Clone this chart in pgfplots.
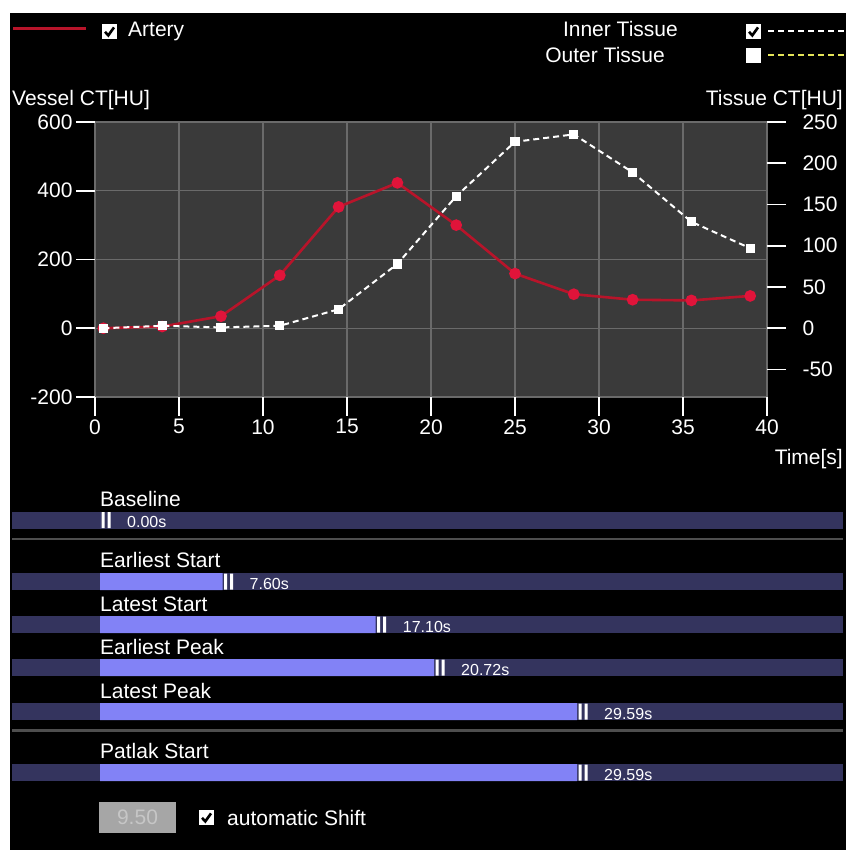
\documentclass[border=0pt]{standalone}
\usepackage{pgfplots}
\pgfplotsset{compat=1.18}
\usepackage{fontspec}
\setmainfont{Liberation Sans}
\definecolor{plotgray}{HTML}{3A3A3A}
\definecolor{gridgray}{HTML}{6A6A6A}
\definecolor{arteryred}{HTML}{B8142A}
\definecolor{markred}{HTML}{E0143A}
\definecolor{track}{HTML}{34345E}
\definecolor{lav}{HTML}{8282F6}
\definecolor{sepgray}{HTML}{4E4E4E}
\definecolor{boxgray}{HTML}{A6A6A6}
\definecolor{boxtext}{HTML}{C6C6C6}
\definecolor{outeryellow}{HTML}{E4E45A}
\newcommand{\lbl}{\fontsize{21}{24}\selectfont}
\newcommand{\valfont}{\fontsize{16}{18}\selectfont}
\newcommand{\chkbox}[2]{%
  \fill[white] (#1,-#2) rectangle ++(15,-15);
  \draw[black, line width=2.6pt] ({#1+3},{-#2-7.8}) -- ({#1+6.3},{-#2-11.4}) -- ({#1+12},{-#2-3.4});}
\pgfdeclareplotmark{handle}{%
  \pgfpathrectangle{\pgfpoint{1.5pt}{-8pt}}{\pgfpoint{3pt}{16pt}}%
  \pgfpathrectangle{\pgfpoint{7.5pt}{-8pt}}{\pgfpoint{3pt}{16pt}}%
  \pgfusepathqfill}
\begin{document}
\begin{tikzpicture}[x=1pt,y=1pt]
\fill[white] (0,0) rectangle (846,-850);
\fill[black] (10,-13) rectangle (846,-850);
% legend
\draw[arteryred, line width=3pt] (13,-29) -- (86,-29);
\chkbox{102}{24}
\node[anchor=base west, white, inner sep=0pt, font=\lbl] at (128,-37) {Artery};
\node[anchor=base east, white, inner sep=0pt, font=\lbl] at (678,-37) {Inner Tissue};
\chkbox{746}{24}
\draw[white, line width=2.2pt, dash pattern=on 6pt off 4pt] (768,-31) -- (846,-31);
\node[anchor=base east, white, inner sep=0pt, font=\lbl] at (665,-63) {Outer Tissue};
\fill[white] (746,-48) rectangle (761,-63);
\draw[outeryellow, line width=2.2pt, dash pattern=on 6pt off 4pt] (768,-55) -- (846,-55);
\node[anchor=base west, white, inner sep=0pt, font=\lbl] at (12,-106) {Vessel CT[HU]};
\node[anchor=base east, white, inner sep=0pt, font=\lbl] at (843,-106) {Tissue CT[HU]};
\node[anchor=base east, white, inner sep=0pt, font=\lbl] at (843,-464) {Time[s]};
% main axis (vessel)
\begin{axis}[
  at={(95pt,-397pt)}, anchor=south west, scale only axis,
  width=672pt, height=275pt,
  xmin=0, xmax=40, ymin=-200, ymax=600,
  axis background/.style={fill=plotgray},
  axis line style={draw=none},
  xtick={0,5,...,40}, ytick={-200,0,...,600},
  xtick pos=bottom, ytick pos=left,
  tick align=outside, major tick length=19pt,
  tick style={white, line width=1.6pt},
  grid=major, major grid style={gridgray, line width=1.2pt},
  tick label style={white, font=\lbl},
  /pgf/number format/assume math mode=true,
  clip=false,
]
\addplot[arteryred, line width=2.6pt, mark=*, mark size=4.5pt, mark options={markred, draw=markred}] coordinates {
(0.5,0) (4.0,5) (7.5,35) (11.0,154) (14.5,353) (18.0,423) (21.5,300) (25.0,159) (28.5,99) (32.0,83) (35.5,81) (39.0,94)
};
\end{axis}
% secondary axis (tissue)
\begin{axis}[
  at={(95pt,-397pt)}, anchor=south west, scale only axis,
  width=672pt, height=275pt,
  xmin=0, xmax=40, ymin=-83.333, ymax=250,
  hide x axis,
  axis y line*=right,
  axis line style={draw=none},
  ytick={-50,0,...,250},
  tick align=outside, major tick length=19pt,
  tick style={white, line width=1.6pt},
  yticklabel style={white, font=\lbl, anchor=west, xshift=13pt},
  /pgf/number format/assume math mode=true,
  clip=false,
]
\addplot[white, line width=2pt, dash pattern=on 6pt off 4pt, mark=square*, mark size=3.6pt, mark options={solid, fill=white}] coordinates {
(0.5,0) (4.0,3) (7.5,1) (11.0,3) (14.5,23) (18.0,78) (21.5,160) (25.0,226) (28.5,235) (32.0,189) (35.5,129) (39.0,97)
};
\end{axis}
% slider labels and separators
\draw[sepgray, line width=2.4pt] (12,-539) -- (843,-539);
\draw[sepgray, line width=2.4pt] (12,-730.5) -- (843,-730.5);
\node[anchor=base west, white, inner sep=0pt, font=\lbl] at (100,-506) {Baseline};
\node[anchor=base west, white, inner sep=0pt, font=\lbl] at (100,-567) {Earliest Start};
\node[anchor=base west, white, inner sep=0pt, font=\lbl] at (100,-611) {Latest Start};
\node[anchor=base west, white, inner sep=0pt, font=\lbl] at (100,-654) {Earliest Peak};
\node[anchor=base west, white, inner sep=0pt, font=\lbl] at (100,-698) {Latest Peak};
\node[anchor=base west, white, inner sep=0pt, font=\lbl] at (100,-758) {Patlak Start};
% slider axis
\begin{axis}[
  at={(12pt,-800pt)}, anchor=south west, scale only axis,
  width=831pt, height=320pt,
  xmin=-5.459, xmax=46.09, ymin=-800, ymax=-480,
  axis lines=none, clip=false,
]
\foreach \c in {-520,-581.5,-624.5,-667.5,-711.5,-772.5}{
  \edef\tmp{\noexpand\fill[track] (axis cs:-5.459,\c+8.5) rectangle (axis cs:46.09,\c-8.5);}
  \tmp
}
\addplot[xbar, bar width=17pt, fill=lav, draw=none] coordinates {
(0,-520) (7.60,-581.5) (17.10,-624.5) (20.72,-667.5) (29.59,-711.5) (29.59,-772.5)
};
\addplot[only marks, mark=handle, white, point meta=x,
  nodes near coords={\pgfmathprintnumber[fixed,fixed zerofill,precision=2,assume math mode=true]{\pgfplotspointmeta}s},
  every node near coord/.append style={anchor=west, xshift=27pt, yshift=-2pt, font=\valfont, text=white, inner sep=0pt}]
coordinates {
(0,-520) (7.60,-581.5) (17.10,-624.5) (20.72,-667.5) (29.59,-711.5) (29.59,-772.5)
};
\end{axis}
% bottom controls
\fill[boxgray] (99,-802) rectangle (176,-833);
\node[boxtext, font=\lbl, inner sep=0pt] at (137.5,-817.5) {9.50};
\chkbox{199}{810}
\node[anchor=base west, white, inner sep=0pt, font=\lbl] at (227,-825) {automatic Shift};
\pgfresetboundingbox
\path[use as bounding box] (0,0) rectangle (846,-850);
\end{tikzpicture}
\end{document}
